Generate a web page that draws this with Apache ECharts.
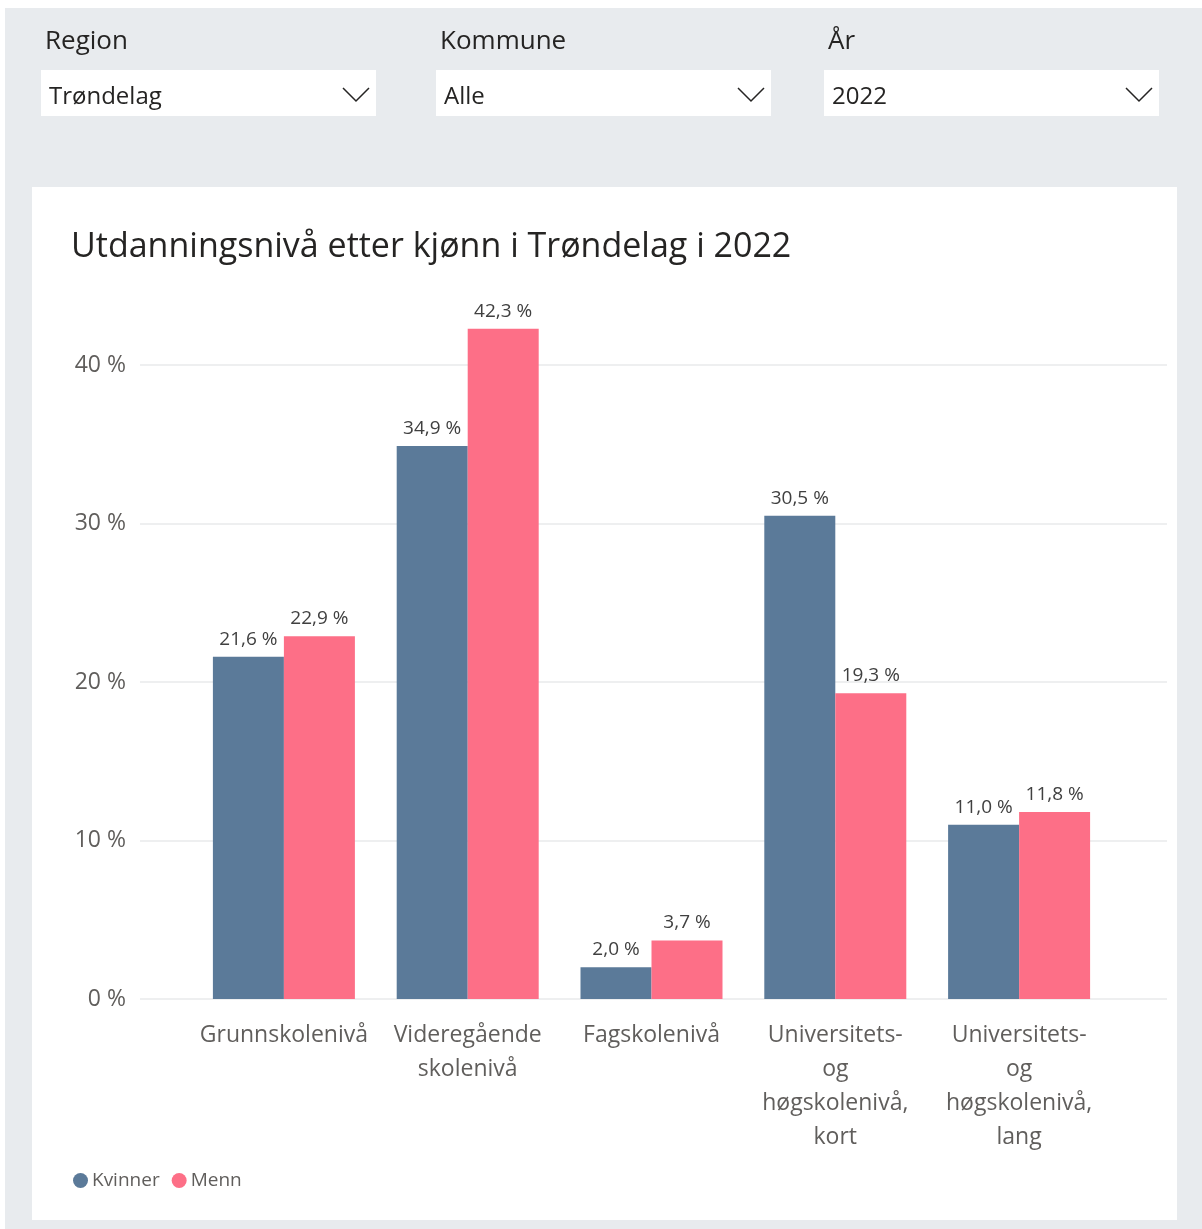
<!DOCTYPE html>
<html>
<head>
<meta charset="utf-8">
<script src="https://cdn.jsdelivr.net/npm/echarts@6/dist/echarts.min.js"></script>
<style>
  html, body { margin: 0; padding: 0; background: #fff; }
  #main { width: 1202px; height: 1229px; }
</style>
</head>
<body>
<div id="main"></div>
<script>
// data
var kategorier = ['Grunnskolenivå', 'Videregående skolenivå', 'Fagskolenivå',
  'Universitets- og høgskolenivå, kort', 'Universitets- og høgskolenivå, lang'];
var kvinner = [21.6, 34.9, 2.0, 30.5, 11.0];
var menn = [22.9, 42.3, 3.7, 19.3, 11.8];
var yTicks = [0, 10, 20, 30, 40];

var FONT = '"Open Sans", "Noto Sans", sans-serif';
var blaa = '#5b7a99';
var rosa = '#fd6f87';

function pst(v) { return v.toFixed(1).replace('.', ',') + ' %'; }

// nedtrekkslister øverst
function dropdown(x, label, value) {
  return [
    { type: 'text', left: x + 4, top: 29, z: -5,
      style: { text: label, font: '26px ' + FONT, fill: '#252423' } },
    { type: 'rect', shape: { x: x, y: 70, width: 335, height: 46 }, z: -8,
      style: { fill: '#ffffff' } },
    { type: 'text', left: x + 8, top: 85, z: -5,
      style: { text: value, font: '24px ' + FONT, fill: '#252423' } },
    { type: 'polyline', z: -5,
      shape: { points: [[x + 302, 88], [x + 315, 101], [x + 328, 88]] },
      style: { stroke: '#252423', lineWidth: 1.5, fill: null } }
  ];
}

var graphics = [
  { type: 'rect', shape: { x: 5, y: 8, width: 1197, height: 1221 }, z: -10,
    style: { fill: '#e8ebee' } },
  { type: 'rect', shape: { x: 32, y: 187, width: 1145, height: 1033 }, z: -9,
    style: { fill: '#ffffff' } }
].concat(dropdown(41, 'Region', 'Trøndelag'))
 .concat(dropdown(436, 'Kommune', 'Alle'))
 .concat(dropdown(824, 'År', '2022'));

var myChart = echarts.init(document.getElementById('main'));
myChart.setOption({
  animation: false,
  textStyle: { fontFamily: FONT },
  title: {
    text: 'Utdanningsnivå etter kjønn i Trøndelag i 2022',
    left: 66, top: 225,
    textStyle: { fontSize: 34, fontWeight: 'normal', color: '#252423', fontFamily: FONT }
  },
  legend: {
    left: 68, top: 1166,
    icon: 'circle', itemWidth: 15, itemHeight: 15, itemGap: 12,
    textStyle: { fontSize: 19, color: '#605e5c', padding: [0, 0, 0, -1] },
    data: ['Kvinner', 'Menn']
  },
  graphic: graphics,
  grid: [
    { left: 140, right: 35, top: 286, bottom: 230 },
    { left: 192, right: 91, top: 286, bottom: 230 }
  ],
  xAxis: [
    { gridIndex: 0, type: 'value', show: false },
    {
      gridIndex: 1, type: 'category', data: kategorier,
      axisLine: { show: false }, axisTick: { show: false },
      axisLabel: {
        interval: 0, margin: 19, fontSize: 23, color: '#605e5c', lineHeight: 34,
        formatter: function (v) { return v.split(' ').join('\n'); }
      }
    }
  ],
  yAxis: [
    {
      gridIndex: 0, type: 'value', min: 0, max: 45, interval: 10,
      axisLine: { show: false }, axisTick: { show: false },
      axisLabel: {
        fontSize: 23, color: '#605e5c', margin: 14, showMaxLabel: false,
        formatter: function (v) { return yTicks.indexOf(v) >= 0 ? v + ' %' : ''; }
      },
      splitLine: { showMaxLine: false, lineStyle: { color: '#e9eaeb', width: 1.5 } }
    },
    { gridIndex: 1, type: 'value', min: 0, max: 45, show: false }
  ],
  series: [
    {
      name: 'Kvinner', type: 'bar', xAxisIndex: 1, yAxisIndex: 1,
      data: kvinner, barWidth: 71, barGap: '0%',
      itemStyle: { color: blaa },
      label: { show: true, position: 'top', distance: 8, fontSize: 19, color: '#404040',
        formatter: function (p) { return pst(p.value); } }
    },
    {
      name: 'Menn', type: 'bar', xAxisIndex: 1, yAxisIndex: 1,
      data: menn, barWidth: 71, barGap: '0%',
      itemStyle: { color: rosa },
      label: { show: true, position: 'top', distance: 8, fontSize: 19, color: '#404040',
        formatter: function (p) { return pst(p.value); } }
    }
  ]
});
</script>
</body>
</html>
